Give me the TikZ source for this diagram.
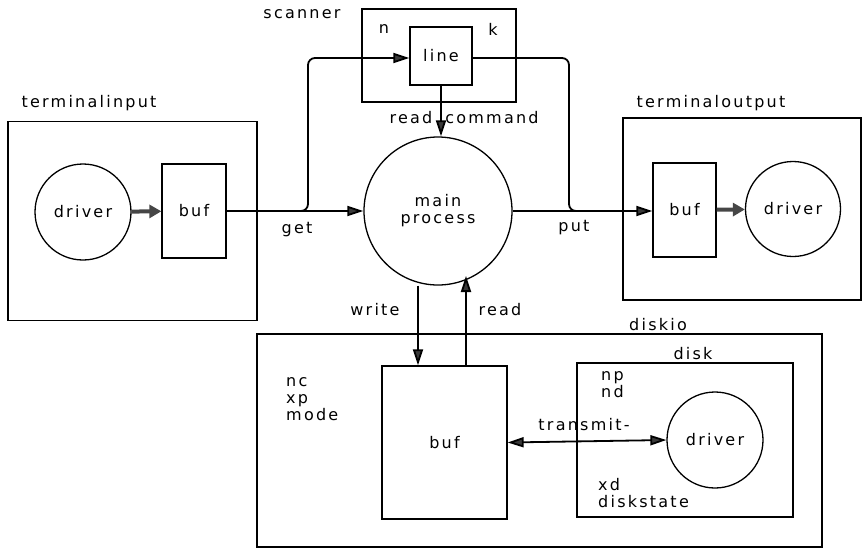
\documentclass[tikz,border=0pt]{standalone}
\usepackage{fontspec}
\setmainfont[LetterSpace=14]{DejaVu Sans}
\usetikzlibrary{arrows.meta}
\begin{document}
\begin{tikzpicture}[x=1pt,y=-1pt,
  font=\fontsize{16}{17}\selectfont,
  box/.style={draw,line width=1.3pt,inner sep=0pt},
  proc/.style={draw,line width=1.3pt,circle,inner sep=0pt},
  lbl/.style={inner sep=0pt},
  conn/.style={line width=1.8pt,-{Triangle[length=16pt,width=10pt,fill=gray!45!black]}},
  thick conn/.style={line width=4pt,draw=gray!55!black,-{Triangle[length=12pt,width=13pt,fill=gray!55!black]}},
  both conn/.style={line width=1.8pt,{Triangle[length=16pt,width=10pt,fill=gray!45!black]}-{Triangle[length=16pt,width=10pt,fill=gray!45!black]}}]
\useasboundingbox (0,0) rectangle (865,550);
% terminal input
\node[box,minimum width=249pt,minimum height=199pt] (tin) at (132.5,221) {};
\node[lbl] (tinl) at (89,103) {terminalinput};
\node[proc,minimum size=96pt] (tidrv) at (83,212) {driver};
\node[box,minimum width=64pt,minimum height=94pt] (tibuf) at (194,211) {buf};
% terminal output
\node[box,minimum width=238pt,minimum height=182pt] (tout) at (742,209) {};
\node[lbl] (toutl) at (711,103) {terminaloutput};
\node[box,minimum width=63pt,minimum height=94pt] (tobuf) at (684.5,210) {buf};
\node[proc,minimum size=95pt] (todrv) at (793,209) {driver};
% scanner
\node[box,minimum width=154pt,minimum height=93pt] (scan) at (439,55.5) {};
\node[lbl] (scanl) at (302,14) {scanner};
\node[lbl] (scn) at (384,29) {n};
\node[lbl] (sck) at (493,29) {k};
\node[box,minimum width=62pt,minimum height=58pt] (line) at (441,56) {line};
% main process
\node[proc,minimum size=148pt,align=center] (main) at (438,211) {main\\process};
% diskio
\node[box,minimum width=565pt,minimum height=213pt] (dio) at (539.5,440.5) {};
\node[lbl] (diol) at (658,325) {diskio};
\node[lbl,align=left,anchor=north west] (vars) at (286,377) {nc\\xp\\mode};
\node[box,minimum width=125pt,minimum height=153pt] (dbuf) at (444.5,442.5) {buf};
% disk
\node[box,minimum width=216pt,minimum height=154pt] (disk) at (685,440) {};
\node[lbl] (diskl) at (693,354) {disk};
\node[lbl,align=left,anchor=north west] (npnd) at (601,371) {np\\nd};
\node[lbl,align=left,anchor=north west] (xdds) at (598,478) {xd\\diskstate};
\node[proc,minimum size=96pt] (ddrv) at (715,440) {driver};
% connectors
\draw[thick conn] (tidrv) -- (tibuf);
\draw[thick conn] (tobuf) -- (todrv);
\draw[conn] (tibuf.east |- main.west) -- (main.west);
\draw[conn] (main.east) -- (tobuf.west |- main.east);
\node[lbl] (get) at (297,230) {get};
\node[lbl] (put) at (574,228) {put};
\coordinate (gsplit) at (296,211);
\coordinate (psplit) at (580,211);
\draw[conn,rounded corners=7pt] (gsplit) -| (308,58) -- (line.west |- 0,58);
\draw[line width=1.8pt,rounded corners=7pt] (line.east |- 0,58) -| (569,211) -- (psplit);
\draw[conn] (line.south) -- (line.south |- main.north);
\node[lbl] (rd1) at (411,118) {read};
\node[lbl] (cmd) at (492,118) {command};
\draw[conn] (main.south -| 418,0) -- (dbuf.north -| 418,0);
\draw[conn] (dbuf.north -| 466,0) -- (466,276);
\node[lbl] (wr) at (375,310) {write};
\node[lbl] (rd2) at (500,310) {read};
\draw[both conn] (dbuf.east) -- (ddrv.west);
\node[lbl] (tx) at (584,425) {transmit-};
\end{tikzpicture}
\end{document}
